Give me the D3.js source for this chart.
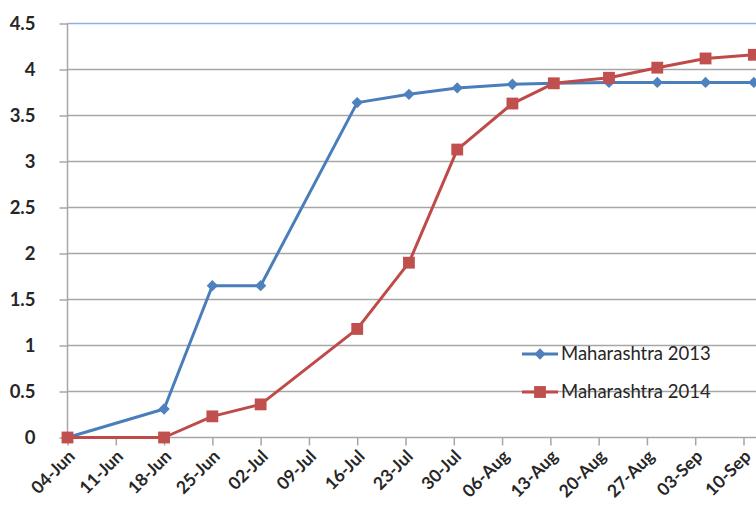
<!DOCTYPE html>
<html>
<head>
<meta charset="utf-8">
<script src="https://cdn.jsdelivr.net/npm/d3@7"></script>
<style>
  html, body { margin: 0; padding: 0; background: #fff; }
  svg { display: block; }
</style>
</head>
<body>
<svg id="chart" width="756" height="507"></svg>
<script>
// Weekly tick labels along the date axis
const tickLabels = ["04-Jun", "11-Jun", "18-Jun", "25-Jun", "02-Jul", "09-Jul", "16-Jul",
  "23-Jul", "30-Jul", "06-Aug", "13-Aug", "20-Aug", "27-Aug", "03-Sep", "10-Sep"];

// Observation dates (season calendar, shared by both years)
const obsDates = ["2014-06-04 00:00", "2014-06-18 00:00", "2014-06-25 00:00", "2014-07-02 00:00",
  "2014-07-16 00:00", "2014-07-23 12:00", "2014-07-30 12:00", "2014-08-07 12:00",
  "2014-08-13 12:00", "2014-08-21 12:00", "2014-08-28 12:00", "2014-09-04 12:00",
  "2014-09-11 12:00"];

const seriesNames = ["Maharashtra 2013", "Maharashtra 2014"];
const values2013 = [0, 0.31, 1.65, 1.65, 3.64, 3.73, 3.80, 3.84, 3.85, 3.86, 3.86, 3.86, 3.86];
const values2014 = [0, 0, 0.23, 0.36, 1.18, 1.90, 3.13, 3.63, 3.85, 3.91, 4.02, 4.12, 4.16];

const yTicks = [0, 0.5, 1, 1.5, 2, 2.5, 3, 3.5, 4, 4.5];

const W = 756, H = 507;
const svg = d3.select("#chart");

const parseObs = d3.timeParse("%Y-%m-%d %H:%M");
const parseTick = d3.timeParse("%d-%b-%Y");
const tickDates = tickLabels.map(t => parseTick(t + "-2014"));

const x0 = 67.5, xLast = 743.5;
const x = d3.scaleTime()
  .domain([tickDates[0], tickDates[tickDates.length - 1]])
  .range([x0, xLast]);
const y = d3.scaleLinear().domain([0, 4.5]).range([437.5, 23.5]);

const font = "Lato, 'Liberation Sans', Arial, sans-serif";

// Horizontal gridlines
svg.append("g").selectAll("line")
  .data(yTicks.filter(v => v > 0))
  .join("line")
  .attr("x1", x0).attr("x2", W)
  .attr("y1", d => y(d)).attr("y2", d => y(d))
  .attr("stroke", d => d === 4.5 ? "#8db3e2" : "#a6a6a6")
  .attr("stroke-width", 1.5);

// Y axis
const yAxis = svg.append("g")
  .attr("transform", `translate(${x0},0)`)
  .call(d3.axisLeft(y).tickValues(yTicks).tickSize(8).tickPadding(24)
    .tickFormat(d => d3.format("")(d)));
yAxis.select(".domain").attr("stroke", "#a6a6a6").attr("stroke-width", 1.5)
  .attr("d", `M0,${y(4.5)}V${y(0)}`);
yAxis.selectAll(".tick line").attr("stroke", "#a6a6a6").attr("stroke-width", 1.5);
yAxis.selectAll(".tick text")
  .attr("font-family", font).attr("font-size", 18.5).attr("font-weight", "bold")
  .attr("fill", "#262626");

// X axis
const xAxis = svg.append("g")
  .attr("transform", `translate(0,${y(0)})`)
  .call(d3.axisBottom(x).tickValues(tickDates).tickSize(8)
    .tickFormat((d, i) => tickLabels[i]));
xAxis.select(".domain").attr("stroke", "#a6a6a6").attr("stroke-width", 1.5)
  .attr("d", `M${x0},0H${W}`);
xAxis.selectAll(".tick line").attr("stroke", "#a6a6a6").attr("stroke-width", 1.5);
xAxis.selectAll(".tick text")
  .attr("font-family", font).attr("font-size", 17.5).attr("font-weight", "bold")
  .attr("fill", "#262626")
  .attr("text-anchor", "end")
  .attr("dy", null).attr("y", null)
  .attr("transform", "translate(8,20) rotate(-45)");

// Series
const series = [
  { name: seriesNames[0], values: values2013, line: "#4a7ebb", fill: "#4f81bd", shape: "diamond" },
  { name: seriesNames[1], values: values2014, line: "#be4b48", fill: "#c0504d", shape: "square" }
];
const dates = obsDates.map(parseObs);

const lineGen = d3.line().x(d => x(d.date)).y(d => y(d.v));

function marker(sel, shape, color) {
  if (shape === "diamond") {
    sel.append("path")
      .attr("d", d3.symbol(d3.symbolSquare, 64)())
      .attr("transform", "rotate(45)")
      .attr("fill", color);
  } else {
    sel.append("path")
      .attr("d", d3.symbol(d3.symbolSquare, 140)())
      .attr("fill", color);
  }
}

series.forEach(s => {
  const pts = s.values.map((v, i) => ({ date: dates[i], v }));
  const g = svg.append("g");
  g.append("path").datum(pts)
    .attr("d", lineGen)
    .attr("fill", "none").attr("stroke", s.line).attr("stroke-width", 3)
    .attr("stroke-linejoin", "round");
  g.selectAll("g.pt").data(pts).join("g")
    .attr("class", "pt")
    .attr("transform", d => `translate(${x(d.date)},${y(d.v)})`)
    .each(function () { marker(d3.select(this), s.shape, s.fill); });
});

// Legend
const legend = svg.append("g");
series.forEach((s, i) => {
  const ly = 354 + i * 38;
  const g = legend.append("g").attr("transform", `translate(522,${ly})`);
  g.append("line").attr("x1", 0).attr("x2", 36).attr("y1", 0).attr("y2", 0)
    .attr("stroke", s.line).attr("stroke-width", 3);
  const m = g.append("g").attr("transform", "translate(18,0)");
  marker(m, s.shape, s.fill);
  g.append("text").attr("x", 39).attr("y", 0).attr("dy", "0.35em")
    .attr("font-family", font).attr("font-size", 18.5)
    .attr("fill", "#262626")
    .text(s.name);
});
</script>
</body>
</html>
